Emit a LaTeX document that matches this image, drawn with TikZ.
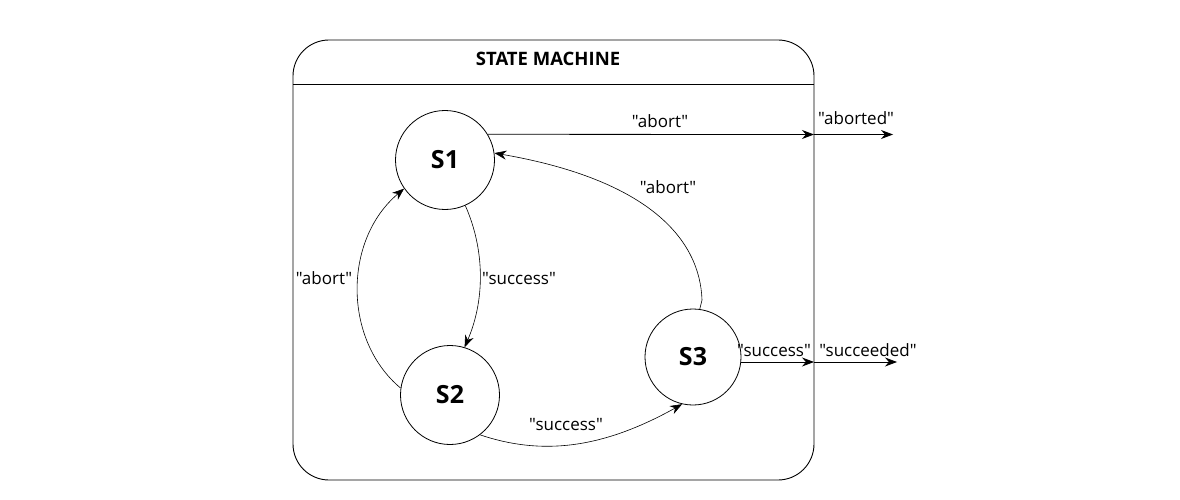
\documentclass[tikz,border=0pt]{standalone}
\usepackage{fontspec}
\setmainfont{Open Sans}[Ligatures=TeXOff]
\usetikzlibrary{arrows.meta}
\begin{document}
\begin{tikzpicture}[x=1pt,y=-1pt,
  state/.style={circle,draw,line width=0.8pt,minimum size=99pt,inner sep=0pt,font=\fontsize{25}{28}\selectfont\bfseries},
  lbl/.style={font=\fontsize{17}{20}\selectfont,inner sep=0pt},
  edge/.style={line width=0.8pt,-{Stealth[length=12pt,width=9pt]}},
  curve/.style={line width=0.6pt,-{Stealth[length=12pt,width=9pt]}}]
\useasboundingbox (0,0) rectangle (1180,500);
% container
\draw[line width=0.9pt,rounded corners=36pt] (293,40) rectangle (814,480);
\draw[line width=0.9pt] (293,84) -- (814,84);
\node[font=\fontsize{18.5}{21}\selectfont\bfseries] (title) at (548,59) {STATE MACHINE};
% states
\node[state] (S1) at (445,160) {S1};
\node[state] (S2) at (450,395) {S2};
\node[state,minimum size=96pt] (S3) at (693,357) {S3};
% boundary points
\coordinate (ab) at (814,134.5);
\coordinate (abend) at (893,134.5);
\coordinate (sc) at (814,362);
\coordinate (scend) at (897,362);
% edges
\draw[edge] (S1.31) -- (ab);
\draw[edge] (ab) -- (abend);
\draw[edge] (S3.east |- sc) -- (sc);
\draw[edge] (sc) -- (scend);
\draw[curve] (S1.-66) .. controls (485,250) and (485,300) .. (S2.73);
\draw[curve] (S2.172) .. controls (343,340) and (343,240) .. (S1.215);
\draw[curve] (S2.-53) .. controls (540,455) and (600,450) .. (S3.-103);
\draw[curve] (S3.82) -- (702,300) .. controls (700,240) and (650,180) .. (S1.8);
% labels
\node[lbl] (l1) at (660,121) {"abort"};
\node[lbl] (l2) at (856,118) {"aborted"};
\node[lbl] (l3) at (668,187) {"abort"};
\node[lbl] (l4) at (519,279) {"success"};
\node[lbl] (l5) at (324,278) {"abort"};
\node[lbl] (l6) at (566,425) {"success"};
\node[lbl] (l7) at (774,351) {"success"};
\node[lbl] (l8) at (868,350) {"succeeded"};
\end{tikzpicture}
\end{document}
